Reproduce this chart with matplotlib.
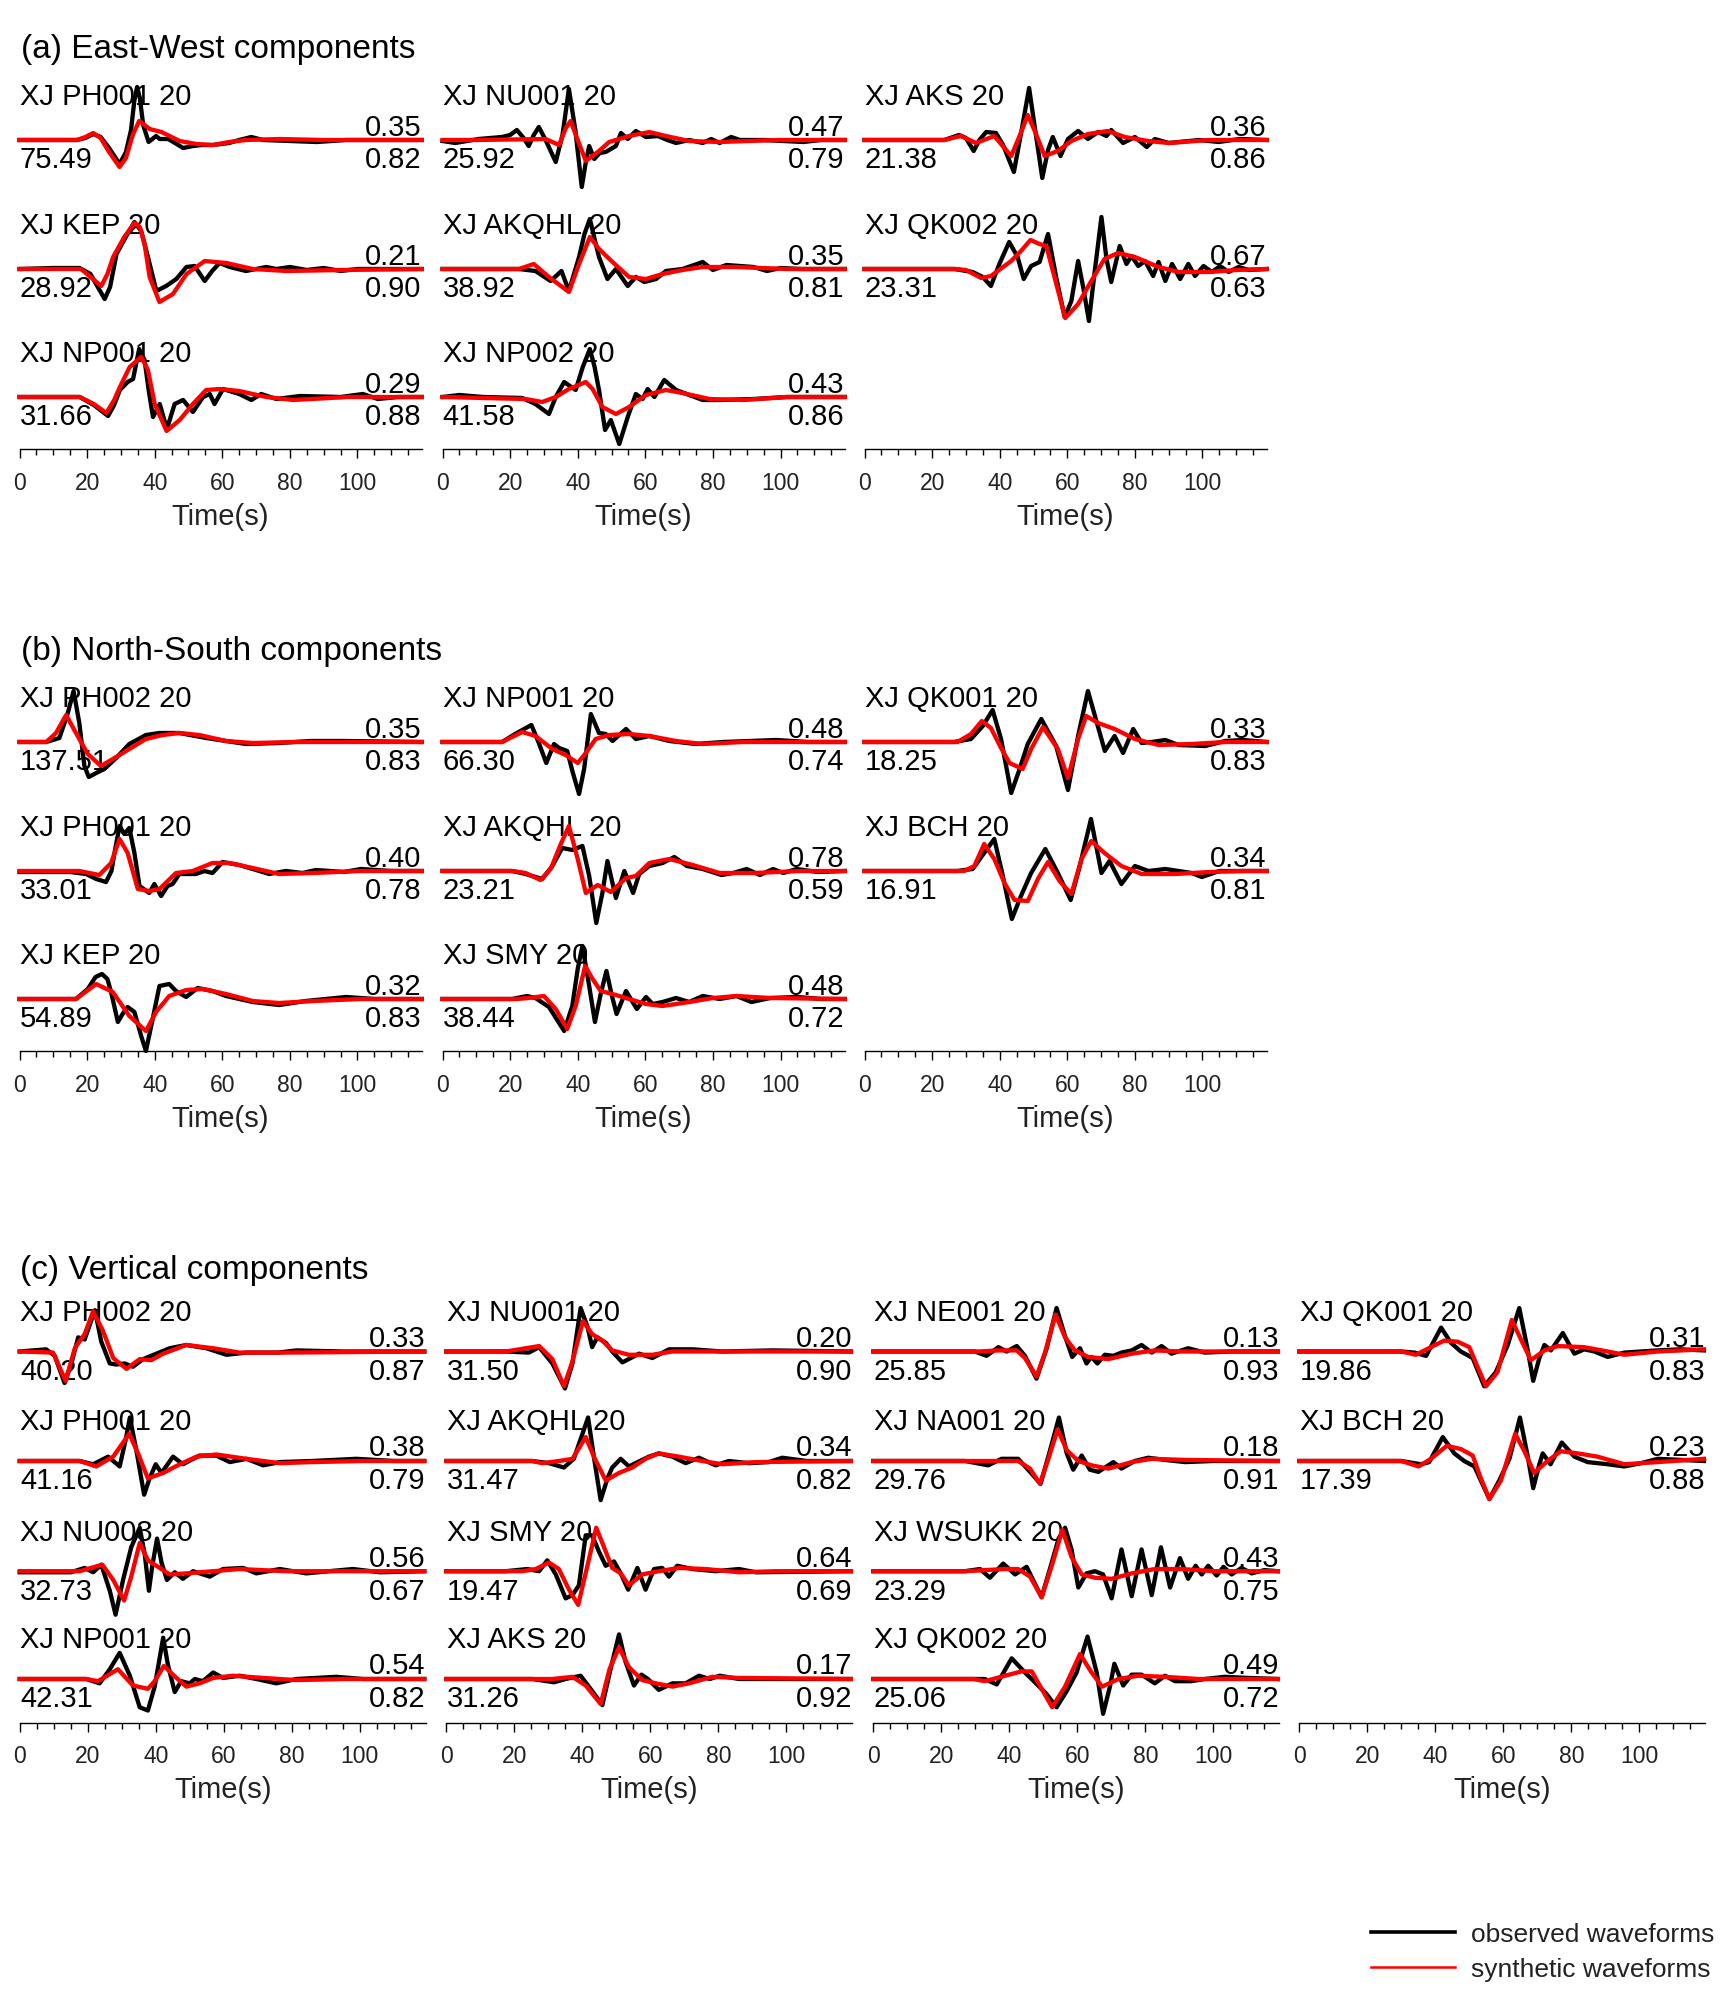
import matplotlib
matplotlib.use('Agg')
import matplotlib.pyplot as plt
from matplotlib.lines import Line2D

plt.rcParams['font.family'] = ['Liberation Sans', 'DejaVu Sans']

# ---- waveforms: (time s, normalised amplitude) ----
# (a) East-West
EW_PH001_OBS = [(0,0),(17,0),(19.5,2),(21.8,6),(24,3),(26.5,-8),(29.6,-24),(31.5,-12),(33,10),(34,40),(34.8,53),(35.6,42),(36.6,15),(38.2,-2),(40.4,4),(41.5,1),(44,1),(46,-3),(48.4,-8),(51.3,-6),(54,-5),(57.2,-5),(62,-3),(65,0),(68.6,3),(72,0),(80,-1),(88,-2),(96.6,0),(119,0)]
EW_PH001_SYN = [(0,0),(17,0),(19.5,3),(21.8,7),(24,2),(26.5,-12),(29.6,-27),(31.5,-18),(33.5,5),(35.4,19),(37,15),(38.5,11),(42,8),(44.4,4),(47.4,-1),(52.3,-4),(57.2,-5),(62,-2),(67,0),(77,1),(90,0),(119,0)]
EW_KEP_OBS = [(0,0),(10,1),(17.8,1),(21,-5),(23.5,-20),(25.2,-30),(26.8,-18),(28.7,15),(31.6,33),(34,47),(36,38),(38,12),(40.5,-22),(43.4,-17),(46.4,-10),(49.4,2),(51.8,3),(54.8,-12),(57,-2),(59.2,6),(62.2,2),(67,-2),(73,2),(76,0),(80,2),(85,-1),(90,1),(95,-2),(100,0),(119,0)]
EW_KEP_SYN = [(0,0),(18.2,0),(21,-8),(24.2,-17),(26,-5),(27.7,12),(31,32),(34,46),(35.6,42),(37,25),(38.5,-8),(41.4,-33),(45.4,-25),(49.4,-5),(54.8,8),(61.2,6),(69,0),(79,-2),(95,-1),(119,0)]
EW_NP001_OBS = [(0,0),(17.8,0),(22,-8),(26.2,-19),(28,-8),(29.7,7),(32,15),(33.6,18),(35.4,48),(37,37),(38.3,5),(39.5,-20),(41.5,-7),(43.6,-32),(45.9,-7),(48.4,-3),(51.3,-15),(54.3,0),(56.3,3),(57.7,-7),(60.2,8),(65,3),(68.6,-3),(71.5,3),(76,-2),(83,1),(95,0),(101.6,3),(106,-2),(112,0),(119,0)]
EW_NP001_SYN = [(0,0),(17.8,0),(22,-7),(25.7,-16),(28,-3),(29.7,10),(32.6,30),(36,40),(38,27),(40,-7),(43.5,-34),(47.4,-23),(51.3,-7),(55.2,7),(59.2,8),(65,6),(73,0),(81,-3),(97,0),(119,0)]
EW_NU001_OBS = [(0,-1),(3.8,-3),(10.7,1),(17.6,3),(20,5),(22,10),(24,2),(25.5,-6),(27,5),(28.5,13),(30.5,0),(33.5,-22),(35.5,5),(37.4,51),(39.3,10),(41.2,-47),(42.5,-20),(43.4,-6),(44.9,-19),(46.5,-13),(48.3,-12),(51.3,-6),(52.8,7),(54.8,1),(57.2,9),(60.2,3),(63.7,4),(66.5,0),(69.1,-3),(73,0),(77,-3),(79.5,1),(82,-3),(85.4,3),(88,0),(95,0),(106.7,-2),(112,0),(119,0)]
EW_NU001_SYN = [(0,0),(10,0),(30.5,1),(34.5,-5),(36.5,12),(37.9,19),(40,0),(42.4,-21),(46.3,-11),(49.3,-2),(55.2,4),(61.2,8),(66.1,4),(73,-1),(82,-2),(99,0),(119,0)]
EW_AKQHL_OBS = [(0,0),(22.6,0),(27.5,-2),(32,-12),(35.2,-2),(37.4,-22),(40.4,12),(42,35),(43.6,50),(45,30),(46.3,12),(48.8,-10),(51.3,0),(54.8,-17),(57.2,-8),(59.7,-13),(63.2,-10),(66.1,-2),(71,0),(77,7),(80,-1),(84,4),(92,2),(96,-2),(100,1),(106,0),(119,0)]
EW_AKQHL_SYN = [(0,0),(22.6,0),(27,5),(31.5,-8),(37.4,-23),(40.4,5),(43.6,32),(46.3,20),(50.3,7),(55.2,-8),(60.2,-10),(65.1,-5),(71,-1),(77,2),(87,2),(102,0),(119,0)]
EW_NP002_OBS = [(0,0),(5,2),(12,0),(23.6,-1),(27.5,-7),(31.5,-17),(33.5,0),(36,15),(39.4,7),(41.5,30),(43.6,48),(45,30),(46.3,7),(48.1,-33),(49.8,-23),(52.3,-47),(54.8,-20),(57.2,3),(59.2,-2),(60.7,8),(62.7,0),(65.6,17),(69.1,7),(73,2),(77,-3),(82,-3),(92,-2),(102,0),(119,0)]
EW_NP002_SYN = [(0,0),(24.6,-2),(29.5,-5),(33.5,0),(37.4,8),(42.4,15),(44.4,8),(47.3,-10),(51.3,-17),(55.2,-10),(60.2,2),(66.1,7),(71,4),(79,-2),(89,-3),(102,0),(119,0)]
EW_AKS_OBS = [(0,0),(23.6,0),(28,5),(30,2),(32.3,-11),(34,0),(36,8),(38.9,7),(41,-5),(44.2,-32),(46.5,10),(48.7,52),(50.5,10),(52.6,-38),(54.3,-10),(55.7,3),(58,-16),(60.2,1),(63.2,9),(66.1,1),(69.1,8),(71.6,4),(73,10),(76.5,-3),(80,3),(83.5,-7),(85.9,1),(90,-3),(99,0),(104.8,-2),(111,1),(119,0)]
EW_AKS_SYN = [(0,0),(23.6,0),(28.5,4),(33,-3),(38.4,4),(43.4,-16),(46,5),(48.3,25),(50.5,8),(53.3,-16),(57.2,-11),(61.2,-1),(66.1,6),(72,9),(77,3),(84,-1),(90,-3),(102,0),(119,0)]
EW_QK002_OBS = [(0,0),(26.5,0),(32,-3),(35,-8),(37.4,-17),(39.9,5),(42.8,27),(45.3,12),(47.1,-10),(49.3,3),(51.8,7),(54.3,35),(56.7,-8),(59.2,-48),(61.2,-32),(63.2,8),(64.8,-20),(66.4,-52),(68.2,0),(70.1,52),(71.6,10),(73,-13),(75.5,23),(77.5,5),(79,13),(81,3),(83,8),(85.4,-7),(87,7),(89,-12),(91,5),(93.4,-10),(95.8,5),(97.8,-7),(100.3,3),(102.8,-3),(105.2,3),(107.7,-3),(110.7,2),(113.7,-1),(119,0)]
EW_QK002_SYN = [(0,0),(27,0),(30,-1),(34.5,-9),(37.4,-7),(43.4,8),(46.3,18),(49.1,29),(51.8,25),(53.8,23),(56.2,-8),(59.4,-49),(63.2,-35),(67.1,-12),(71,10),(75,16),(80,12),(87,2),(92.9,-3),(101.8,-3),(110,-1),(119,0)]

# (b) North-South
NS_PH002_OBS = [(0,0),(7.9,0),(11.8,4),(14.3,29),(16,51),(17.7,19),(19.2,-24),(20.5,-35),(22.7,-31),(25.1,-27),(28.6,-16),(32.5,-2),(37.4,7),(41.4,9),(47.3,9),(55.2,4),(61.1,1),(67,-2),(76.8,-1),(86,1),(96,1),(119,0)]
NS_PH002_SYN = [(0,0),(7.9,0),(10.8,9),(13.8,27),(16.7,9),(20.2,-12),(24.1,-24),(27.6,-17),(32.5,-7),(37.4,3),(42.4,7),(47.3,9),(53.2,7),(61.1,1),(69,-1),(82,0),(119,0)]
NS_PH001_OBS = [(0,-1),(15,-1),(19.7,-3),(22.7,-8),(25.6,-11),(27.2,0),(28.1,18),(29.6,45),(31,37),(32.5,43),(34,18),(35.5,-15),(38.4,-22),(39.9,-13),(41.9,-25),(43.8,-15),(45.3,-13),(47.3,-3),(52.2,-3),(54.7,0),(57.1,-2),(60.1,9),(65,6),(69,2),(73.9,-3),(78.8,0),(83.7,-2),(87.7,1),(96,-1),(101,2),(110,0),(119,0)]
NS_PH001_SYN = [(0,0),(17.7,0),(23.6,-4),(27.1,8),(29.6,32),(32,18),(35,-18),(38.4,-20),(41.4,-18),(46.3,-2),(51.2,0),(57.1,8),(62.1,8),(69,3),(76.8,-3),(86.7,-2),(101,0),(119,0)]
NS_KEP_OBS = [(0,0),(16.7,0),(20.2,10),(22.5,22),(24.4,25),(26,20),(27.1,7),(29.1,-23),(30.5,-15),(32,-8),(34,-13),(36,-37),(37.4,-52),(39.4,-20),(41.4,13),(44.3,15),(46.3,8),(49.3,2),(52.7,11),(57.1,8),(61.1,3),(69,-3),(76.8,-6),(84.7,-2),(96.6,2),(105,0),(119,0)]
NS_KEP_SYN = [(0,0),(16.7,0),(19.5,7),(22.7,15),(27.6,7),(32.5,-17),(37.4,-32),(40.4,-13),(44.3,3),(49.3,9),(54.2,10),(61.1,5),(69,-2),(76.8,-4),(87,-2),(101,0),(119,0)]
NS_NP001_OBS = [(0,0),(17.6,0),(22,9),(26.3,17),(28.5,-1),(30.7,-21),(33,-2),(34.5,-6),(36.9,-9),(38.5,-30),(40.4,-52),(41.9,-27),(43.9,28),(46.3,9),(48.3,8),(50.3,1),(54.3,13),(57.2,3),(61.2,6),(67.1,1),(75,-2),(83,0),(98.8,2),(108,0),(119,0)]
NS_NP001_SYN = [(0,0),(17.6,0),(23.6,10),(27.5,6),(32.5,-7),(36.4,-13),(40,-21),(42.4,-11),(45.3,3),(49.3,7),(55.2,8),(61.2,6),(69.1,1),(77,-2),(89,0),(119,0)]
NS_AKQHL_OBS = [(0,0),(20.6,0),(24.6,-3),(29.5,-8),(32.5,5),(35.4,23),(38.4,21),(41.4,25),(43.4,-5),(45.5,-52),(47.3,-22),(48.8,10),(51.3,-27),(53.8,0),(56.4,-22),(58.2,-3),(61.2,5),(65.1,8),(68.6,14),(72.3,5),(77,2),(82.5,-4),(86,-2),(90,2),(93.9,-4),(97.8,2),(100.8,-2),(104.8,2),(111,-1),(119,0)]
NS_AKQHL_SYN = [(0,0),(20.6,0),(24.6,-2),(29,-9),(32,2),(35,27),(37.4,45),(40,12),(42.4,-22),(45.9,-14),(49.8,-21),(54.3,-7),(57.2,-5),(61.2,8),(67.1,12),(74,6),(82,-2),(92,-2),(106,0),(119,0)]
NS_SMY_OBS = [(0,0),(20.6,0),(25,3),(27.5,1),(31.5,-8),(36,-32),(38.4,-7),(40,30),(41.4,53),(43.4,13),(45.1,-23),(46.8,5),(48.5,28),(50,5),(51.5,-15),(54.3,8),(57.5,-10),(60.2,2),(62.2,-5),(65.1,-3),(69.1,1),(73,-3),(77,3),(82,0),(87,3),(91.4,-3),(97,1),(105,2),(112,0),(119,0)]
NS_SMY_SYN = [(0,0),(22,0),(25.5,1),(30,3),(33.5,-10),(36.9,-30),(39.4,-7),(42.2,33),(44.4,20),(46.8,8),(50.3,5),(55.2,0),(60.2,-5),(65.1,-7),(73,-3),(80,1),(87,3),(97,1),(119,0)]
NS_QK001_OBS = [(0,0),(26.5,0),(31.5,3),(35,16),(37.9,32),(40.4,3),(43.4,-51),(45.9,-27),(48.3,-2),(52.3,23),(56.7,-4),(60.2,-48),(63.2,6),(66.1,51),(68.6,21),(71.1,-9),(74,6),(76.5,-11),(79.5,13),(82,-1),(85,0),(89,2),(92.9,-3),(100.8,-4),(106.7,1),(112,2),(119,0)]
NS_QK001_SYN = [(0,0),(27.5,0),(31.5,8),(34.7,21),(37.4,14),(40.4,-6),(42.9,-21),(46.8,-27),(49.3,-7),(52.8,15),(57.2,-7),(60.2,-36),(63.2,3),(65.6,26),(69.1,19),(74,13),(80,3),(87,-3),(96.8,-2),(106.7,0),(119,0)]
NS_BCH_OBS = [(0,0),(27.5,0),(32,2),(35.4,18),(38.4,32),(40.8,-3),(43.6,-48),(46.3,-25),(49.3,-2),(53.5,22),(57.2,-2),(61,-29),(63.7,5),(67,52),(70.1,-2),(72.5,10),(76,-13),(80,5),(84,0),(89,2),(96.8,-2),(99.8,-6),(105,0),(119,0)]
NS_BCH_SYN = [(0,0),(29.5,0),(32.5,5),(35.4,27),(38.4,12),(41.4,-12),(44.4,-29),(48.3,-30),(51.3,-8),(54.3,9),(57.7,-10),(61.2,-23),(64.2,12),(67.1,30),(71,18),(76,5),(82,-3),(92,-3),(102,-1),(112,0),(119,0)]

# (c) Vertical
Z_PH002_OBS = [(0,0),(7.8,2),(10.3,-4),(13.2,-29),(15.2,-11),(17.2,13),(19.1,11),(22.1,38),(24,9),(26.5,-11),(28.4,-12),(30.9,-11),(33.3,-14),(36.3,-7),(40.2,-2),(44.1,3),(49,6),(54.9,3),(60.8,-3),(66.7,-1),(76,-1),(81.4,1),(95,0),(119,0)]
Z_PH002_SYN = [(0,0),(9.8,-1),(13.5,-27),(16.2,3),(19.1,16),(21.6,37),(24.5,19),(27.5,-6),(31.4,-16),(35.3,-7),(38.7,-8),(42.2,-2),(49,6),(56.9,3),(64.7,-1),(78,-1),(119,0)]
Z_PH001_OBS = [(0,0),(17.6,0),(21.6,-3),(26,4),(29.4,-5),(31.2,20),(32.4,40),(34.3,10),(36.6,-31),(38.2,-16),(40,-3),(41.7,-11),(45.1,4),(48,-3),(52.9,5),(57.8,5),(61.8,-1),(66.7,2),(71.6,-4),(76.5,-1),(86,0),(99,2),(110,0),(119,0)]
Z_PH001_SYN = [(0,0),(17.6,0),(22.5,-5),(27.5,4),(32.2,25),(34.8,7),(37.7,-16),(42.2,-11),(47.1,-3),(52,4),(57.8,6),(66.7,2),(76.5,-2),(86,-1),(101,0),(119,0)]
Z_NU003_OBS = [(0,-1),(15,-1),(19.1,3),(21.6,-1),(24,6),(26.5,-18),(28.2,-40),(30.4,-8),(32.8,22),(35.3,40),(36.8,15),(38,-18),(39,5),(40.4,30),(41.7,8),(43.3,-8),(45.6,-1),(48,-7),(51,0),(55.9,-5),(59.8,2),(65.7,3),(69.6,-2),(76.5,2),(84.3,-2),(91,0),(98,2),(106,-1),(119,0)]
Z_NU003_SYN = [(0,0),(17.6,0),(24.3,6),(27.5,-8),(30.7,-27),(32.8,-5),(35.3,26),(37.7,10),(41.2,3),(44.1,-3),(49,-2),(56.9,0),(64.7,2),(78,0),(119,0)]
Z_NP001_OBS = [(0,0),(19.6,0),(23.5,-4),(26.5,9),(29.4,24),(32.4,3),(35.3,-26),(37.7,-29),(39.7,-7),(42.2,38),(43.6,13),(45.6,-12),(47.5,-2),(50,-4),(51.5,0),(53.9,-2),(56.9,6),(59.8,1),(64.7,3),(69.6,0),(75.5,-4),(81.4,0),(93.1,2),(101,0),(119,0)]
Z_NP001_SYN = [(0,0),(19.6,0),(23,-2),(28.9,9),(33.3,-6),(37.7,-9),(39.7,-2),(42.4,12),(46.1,1),(49,-7),(52.9,-4),(56.9,1),(62.7,3),(71.6,1),(81.4,-1),(96,0),(119,0)]
Z_NU001_OBS = [(0,0),(17.5,0),(24.3,-1),(27.3,4),(31.2,-11),(34.9,-34),(37.1,-11),(39.5,40),(41.5,23),(42.9,4),(44.4,13),(46.9,8),(48.8,0),(51.8,-10),(56.7,-2),(60.6,-6),(65.5,2),(72.4,2),(81.2,0),(95.9,1),(119,0)]
Z_NU001_SYN = [(0,0),(17.5,0),(27.3,5),(31.2,-7),(34.6,-32),(37.1,-9),(40.2,28),(42.9,16),(45.9,10),(48.8,1),(53.7,-3),(60.6,-3),(66.5,0),(76.3,0),(119,0)]
Z_AKQHL_OBS = [(0,0),(25.3,0),(30.2,-2),(34.6,-6),(37.5,2),(39.5,20),(41.7,40),(43.4,4),(45.4,-36),(47.4,-16),(48.8,-6),(51.3,2),(53.7,-5),(57.6,1),(59.6,4),(62.5,7),(66.5,4),(70.4,-2),(74.3,3),(79.2,-4),(83.1,0),(89,-2),(94.9,-1),(98.8,3),(106,0),(119,0)]
Z_AKQHL_SYN = [(0,0),(25.3,0),(28.2,-2),(33.1,0),(37.1,2),(41,22),(43.4,4),(46.9,-18),(50.8,-11),(54.7,-6),(58.6,2),(62.5,7),(68.4,4),(75.3,0),(81.2,-3),(91,-1),(119,0)]
Z_SMY_OBS = [(0,0),(17.5,0),(23.8,2),(27.3,0),(29.7,10),(32.2,-3),(35.1,-25),(37.1,-22),(39,-13),(41,33),(42.9,33),(44.9,18),(46.9,5),(49.3,9),(51.3,-2),(53.5,-17),(56.2,3),(58.6,-17),(61.1,2),(63.5,3),(65.5,-5),(67.9,5),(72.4,2),(79.2,0),(86.1,2),(91,-1),(119,0)]
Z_SMY_SYN = [(0,0),(22.4,0),(26.3,2),(30.2,8),(33.1,2),(36.1,-17),(38.8,-31),(41.5,5),(44.1,40),(46.4,22),(48.8,3),(51.3,-2),(53.7,-13),(57.6,-3),(62.5,0),(68.4,3),(76.3,2),(86.1,-1),(97,0),(119,0)]
Z_AKS_OBS = [(0,0),(25.3,0),(31.7,-3),(35.1,0),(39.5,3),(42.9,-11),(45.9,-24),(48.3,9),(50.8,41),(52.7,16),(55.2,-6),(57.4,4),(59.3,0),(62.5,-10),(66.5,-4),(70.4,-4),(74.3,3),(77.5,0),(80.4,3),(86.1,0),(119,0)]
Z_AKS_SYN = [(0,0),(25.3,0),(31.2,0),(37.1,2),(41,-6),(45.4,-23),(48,9),(50.8,29),(53.7,11),(57.6,-1),(61.6,-4),(66.5,-7),(71.4,-4),(78.2,2),(86.1,1),(119,0)]
Z_NE001_OBS = [(0,0),(27,0),(29.9,0),(33.3,-4),(36.8,4),(39.2,0),(42.2,5),(44.6,-4),(48,-25),(51,3),(53.9,40),(56.4,14),(58.5,-5),(60.8,3),(62.7,-11),(64.2,-5),(65.9,-11),(68.1,-3),(70.6,-4),(73,-1),(76,1),(78.9,6),(81.9,-1),(84.8,5),(87.7,-2),(92.6,3),(97.5,-1),(105,0),(119,0)]
Z_NE001_SYN = [(0,0),(30.9,0),(36.8,1),(42.2,1),(44.6,-6),(48,-23),(50.5,-1),(53.6,34),(56.4,13),(59.3,1),(63.2,-5),(69.1,-7),(76,-2),(82.8,1),(90.7,0),(119,0)]
Z_NA001_OBS = [(0,0),(27,0),(33.8,-4),(37.7,2),(42.6,2),(46.1,-10),(49.2,-21),(52,10),(54.6,40),(56.9,7),(58.8,-8),(61.3,5),(63.7,-8),(66.2,-10),(70.6,-1),(73,-7),(76.9,0),(80.9,3),(85.8,1),(91.7,-1),(100,0),(119,0)]
Z_NA001_SYN = [(0,0),(27,0),(36.8,0),(42.6,0),(46.1,-7),(49,-21),(51.7,4),(54.2,29),(56.9,10),(60.3,0),(64.2,-4),(69.1,-7),(76,-1),(81.9,2),(91.7,1),(119,0)]
Z_WSUKK_OBS = [(0,0),(27,0),(31.4,2),(34.3,-6),(38.2,7),(41.7,-3),(45.1,4),(49.5,-24),(52.5,8),(54.5,30),(56.4,40),(58.3,20),(60.3,-15),(62.7,-2),(65.2,0),(67.6,-3),(70.1,-25),(73,20),(76,-23),(78.9,20),(81.9,-22),(84.6,22),(87.3,-15),(90.2,12),(92.6,-7),(94.8,5),(96.6,-3),(98.5,5),(101,-4),(103,4),(105.4,-3),(108.3,3),(111.3,-2),(115,1),(119,0)]
Z_WSUKK_SYN = [(0,0),(27,0),(38.7,2),(42.6,2),(46.1,-5),(49.5,-24),(52.5,5),(55.6,38),(58.3,13),(61.3,-3),(65.2,-6),(70.1,-7),(76,-2),(82.8,2),(90.7,2),(100.5,0),(119,0)]
Z_QK002_OBS = [(0,0),(29.9,0),(32.8,0),(36.3,-5),(40.7,19),(44.6,6),(48.5,-6),(51,-14),(53.9,-26),(56.9,-11),(59.8,6),(63,39),(65.7,6),(67.6,-32),(69.6,-7),(70.9,14),(73.5,-6),(76,4),(78.9,4),(82.8,-4),(85.8,3),(88.7,-2),(93.6,-2),(97.5,0),(103.4,2),(110,1),(119,0)]
Z_QK002_SYN = [(0,0),(29.4,0),(32.8,-2),(38.7,3),(43.6,7),(46.6,7),(49.5,-9),(52.6,-26),(56.4,-7),(60.8,23),(64.2,6),(67.3,-7),(72.1,0),(77.9,3),(85.8,2),(95.6,0),(119,0)]
Z_QK001_OBS = [(0,0),(30,0),(33.8,-1),(37.3,-4),(41.7,22),(44.6,8),(47.5,0),(51,-6),(54.4,-32),(57.8,-19),(61.3,6),(64.7,40),(67.2,1),(68.8,-27),(70.6,-6),(72.1,6),(74,1),(77.5,17),(80.9,-2),(83.8,2),(86.8,0),(90.7,-5),(95.6,-1),(100.5,0),(105.4,1),(112,2),(119,1)]
Z_QK001_SYN = [(0,0),(30,0),(34.3,-3),(38.7,4),(42.6,10),(46.6,9),(50,4),(52,-11),(54.9,-32),(58.3,-19),(62.5,29),(65.2,11),(68.1,-8),(72.1,1),(76,5),(83.8,4),(90.7,0),(95.6,-3),(105.4,0),(119,2)]
Z_BCH_OBS = [(0,0),(30,0),(35.8,-3),(38.2,-1),(42.2,22),(45.6,7),(48.5,0),(51.5,-5),(55.9,-35),(58.8,-18),(61.8,2),(64.9,40),(67.2,4),(68.8,-25),(70.6,-3),(71.6,7),(73.9,-3),(77.2,17),(80.9,4),(84.8,-1),(90.7,-3),(95.6,-5),(100.5,-2),(105.4,2),(119,0)]
Z_BCH_SYN = [(0,0),(30,0),(35.1,-5),(38.7,2),(43.4,14),(47.5,11),(51,5),(53.4,-16),(55.9,-35),(59.3,-18),(63.5,25),(66.2,9),(69.1,-11),(73,0),(76.9,9),(81.9,7),(87.7,4),(95.6,-3),(105.4,-1),(119,2)]

# ---- station labels and numbers, one list per column ----
ew_names = [["XJ PH001 20", "XJ KEP 20", "XJ NP001 20"],
            ["XJ NU001 20", "XJ AKQHL 20", "XJ NP002 20"],
            ["XJ AKS 20", "XJ QK002 20"]]
ew_upper = [[0.35, 0.21, 0.29], [0.47, 0.35, 0.43], [0.36, 0.67]]
ew_lower = [[0.82, 0.90, 0.88], [0.79, 0.81, 0.86], [0.86, 0.63]]
ew_peak = [[75.49, 28.92, 31.66], [25.92, 38.92, 41.58], [21.38, 23.31]]
ew_obs = [[EW_PH001_OBS, EW_KEP_OBS, EW_NP001_OBS],
          [EW_NU001_OBS, EW_AKQHL_OBS, EW_NP002_OBS],
          [EW_AKS_OBS, EW_QK002_OBS]]
ew_syn = [[EW_PH001_SYN, EW_KEP_SYN, EW_NP001_SYN],
          [EW_NU001_SYN, EW_AKQHL_SYN, EW_NP002_SYN],
          [EW_AKS_SYN, EW_QK002_SYN]]

ns_names = [["XJ PH002 20", "XJ PH001 20", "XJ KEP 20"],
            ["XJ NP001 20", "XJ AKQHL 20", "XJ SMY 20"],
            ["XJ QK001 20", "XJ BCH 20"]]
ns_upper = [[0.35, 0.40, 0.32], [0.48, 0.78, 0.48], [0.33, 0.34]]
ns_lower = [[0.83, 0.78, 0.83], [0.74, 0.59, 0.72], [0.83, 0.81]]
ns_peak = [[137.51, 33.01, 54.89], [66.30, 23.21, 38.44], [18.25, 16.91]]
ns_obs = [[NS_PH002_OBS, NS_PH001_OBS, NS_KEP_OBS],
          [NS_NP001_OBS, NS_AKQHL_OBS, NS_SMY_OBS],
          [NS_QK001_OBS, NS_BCH_OBS]]
ns_syn = [[NS_PH002_SYN, NS_PH001_SYN, NS_KEP_SYN],
          [NS_NP001_SYN, NS_AKQHL_SYN, NS_SMY_SYN],
          [NS_QK001_SYN, NS_BCH_SYN]]

z_names = [["XJ PH002 20", "XJ PH001 20", "XJ NU003 20", "XJ NP001 20"],
           ["XJ NU001 20", "XJ AKQHL 20", "XJ SMY 20", "XJ AKS 20"],
           ["XJ NE001 20", "XJ NA001 20", "XJ WSUKK 20", "XJ QK002 20"],
           ["XJ QK001 20", "XJ BCH 20"]]
z_upper = [[0.33, 0.38, 0.56, 0.54], [0.20, 0.34, 0.64, 0.17],
           [0.13, 0.18, 0.43, 0.49], [0.31, 0.23]]
z_lower = [[0.87, 0.79, 0.67, 0.82], [0.90, 0.82, 0.69, 0.92],
           [0.93, 0.91, 0.75, 0.72], [0.83, 0.88]]
z_peak = [[40.20, 41.16, 32.73, 42.31], [31.50, 31.47, 19.47, 31.26],
          [25.85, 29.76, 23.29, 25.06], [19.86, 17.39]]
z_obs = [[Z_PH002_OBS, Z_PH001_OBS, Z_NU003_OBS, Z_NP001_OBS],
         [Z_NU001_OBS, Z_AKQHL_OBS, Z_SMY_OBS, Z_AKS_OBS],
         [Z_NE001_OBS, Z_NA001_OBS, Z_WSUKK_OBS, Z_QK002_OBS],
         [Z_QK001_OBS, Z_BCH_OBS]]
z_syn = [[Z_PH002_SYN, Z_PH001_SYN, Z_NU003_SYN, Z_NP001_SYN],
         [Z_NU001_SYN, Z_AKQHL_SYN, Z_SMY_SYN, Z_AKS_SYN],
         [Z_NE001_SYN, Z_NA001_SYN, Z_WSUKK_SYN, Z_QK002_SYN],
         [Z_QK001_SYN, Z_BCH_SYN]]

# ---- layout (figure pixels, measured from the top) ----
W, H = 1725, 2006
fig = plt.figure(figsize=(W / 100, H / 100), dpi=100)

TXT = '#222222'
LW = 3.1
FS = 21


def column(x0, axis_y, scale, tmax, offsets, amp, dy, tick_pad,
           names, upper, lower, peak, obs, syn):
    # dy: baselines of station label, upper number, lower numbers, xlabel
    height = offsets[0] + 80
    ax = fig.add_axes([x0 / W, 1 - axis_y / H, tmax * scale / W, height / H])
    ax.set_xlim(0, tmax)
    ax.set_ylim(0, height)
    ax.patch.set_visible(False)
    for s in ['top', 'left', 'right']:
        ax.spines[s].set_visible(False)
    ax.spines['bottom'].set_linewidth(1.0)
    ax.set_yticks([])
    ax.set_xticks(range(0, 101, 20))
    ax.set_xticks(range(0, 116, 5), minor=True)
    ax.tick_params(axis='x', which='major', direction='out', length=6.5,
                   width=1.0, labelsize=16.5, labelcolor=TXT, pad=tick_pad)
    ax.tick_params(axis='x', which='minor', direction='out', length=4.3, width=1.0)

    for i, name in enumerate(names):
        base = offsets[i]
        t, a = zip(*obs[i])
        ax.plot(t, [base + amp * v for v in a], color='black', lw=LW,
                solid_joinstyle='round', clip_on=False, zorder=4)
        t, a = zip(*syn[i])
        ax.plot(t, [base + amp * v for v in a], color='#ff0000', lw=LW,
                solid_joinstyle='round', clip_on=False, zorder=5)
        ax.text(0.1, base + dy[0], name, fontsize=FS, va='baseline', ha='left')
        ax.text(tmax, base + dy[1], '%.2f' % upper[i], fontsize=FS,
                va='baseline', ha='right')
        ax.text(tmax, base + dy[2], '%.2f' % lower[i], fontsize=FS,
                va='baseline', ha='right')
        ax.text(0.1, base + dy[2], '%.2f' % peak[i], fontsize=FS,
                va='baseline', ha='left')
    ax.text(tmax / 2, dy[3], 'Time(s)', fontsize=FS, color=TXT,
            ha='center', va='baseline')
    return ax


# (a) and (b): three columns, three rows
ab_x0 = [19.5, 442.5, 864.5]
for axis_y, names, up, lo, pk, ob, sy in [
        (450, ew_names, ew_upper, ew_lower, ew_peak, ew_obs, ew_syn),
        (1052, ns_names, ns_upper, ns_lower, ns_peak, ns_obs, ns_syn)]:
    for c in range(3):
        column(ab_x0[c], axis_y, 3.38, 119.0, [309, 180, 52], 1.0,
               (35.6, 5.0, -27.4, -75.4), 9,
               names[c], up[c], lo[c], pk[c], ob[c], sy[c])

# (c): four columns, four rows
c_x0 = [19.7, 446.3, 873.3, 1299.3]
for c in range(4):
    column(c_x0[c], 1723.5, 3.40, 119.4, [371, 261.5, 151.3, 43.5], 1.087,
           (31.6, 5.6, -27.4, -75.0), 9,
           z_names[c], z_upper[c], z_lower[c], z_peak[c], z_obs[c], z_syn[c])

fig.text(21 / W, 1 - 58 / H, '(a) East-West components', fontsize=24, va='baseline')
fig.text(21 / W, 1 - 660 / H, '(b) North-South components', fontsize=24, va='baseline')
fig.text(20 / W, 1 - 1279 / H, '(c) Vertical components', fontsize=24, va='baseline')

handles = [Line2D([], [], color='black', lw=2.6),
           Line2D([], [], color='#ff0000', lw=1.8)]
fig.legend(handles, ['observed waveforms', 'synthetic waveforms'],
           loc='upper left', bbox_to_anchor=(1371 / W, 1 - 1923 / H),
           frameon=False, fontsize=19, labelcolor=TXT, borderpad=0,
           borderaxespad=0, handlelength=3.2, handletextpad=0.6,
           labelspacing=0.42)

fig.savefig('out.png', dpi=100)
